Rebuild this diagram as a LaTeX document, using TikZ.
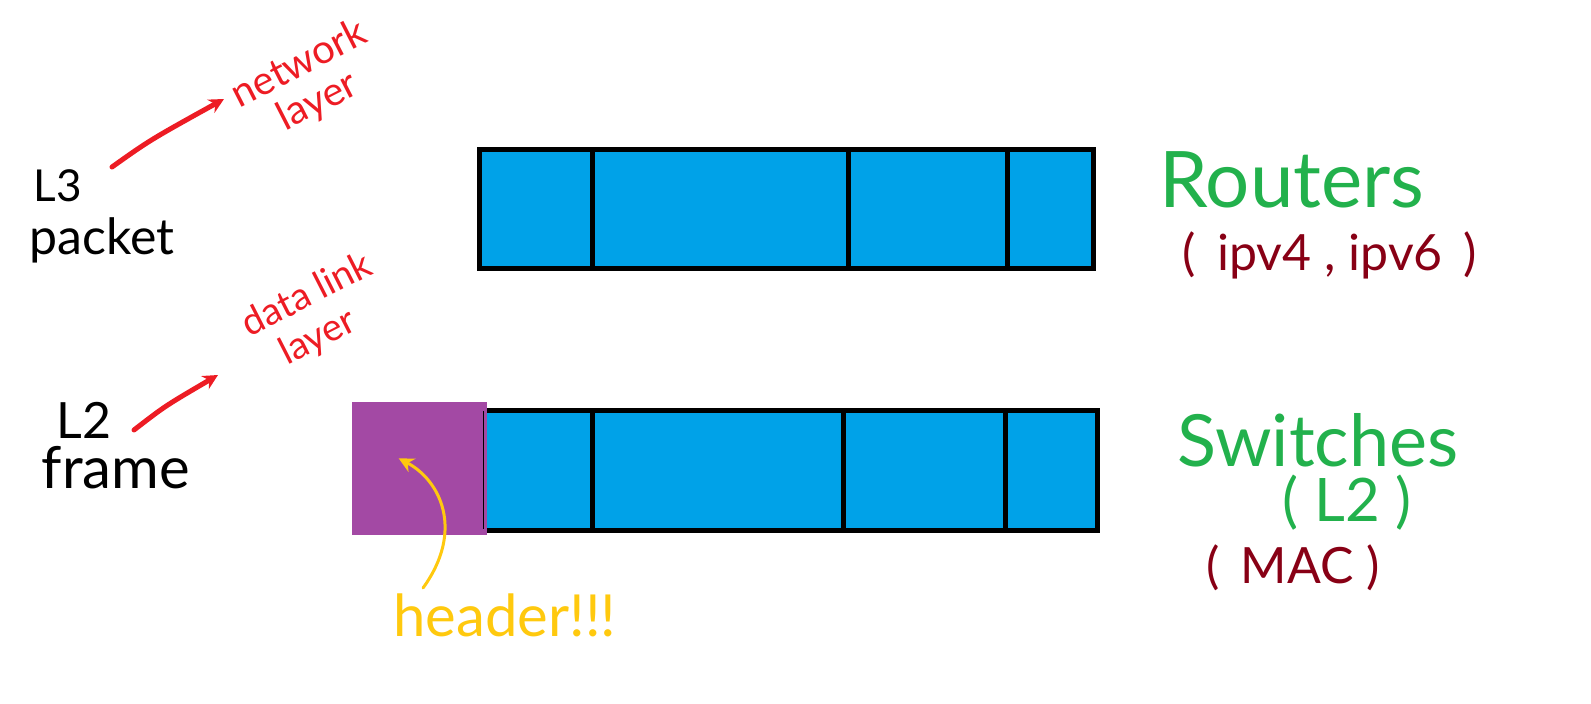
\documentclass[tikz,border=0pt]{standalone}
\usepackage{fontspec}
\setmainfont{Lato}
\usetikzlibrary{arrows.meta}
\definecolor{pblue}{HTML}{00A2E8}
\definecolor{ppurple}{HTML}{A349A4}
\definecolor{pgreen}{HTML}{22B14C}
\definecolor{pdred}{HTML}{880015}
\definecolor{pred}{HTML}{ED1C24}
\definecolor{pyellow}{HTML}{FFC90E}
\tikzset{
  seg/.style={draw=black, line width=5pt, fill=pblue},
  div/.style={draw=black, line width=5pt},
  lbl/.style={inner sep=0pt, anchor=center},
  redlbl/.style={inner sep=0pt, anchor=center, text=pred, rotate=27},
  redarrow/.style={draw=pred, line width=5pt, line cap=round, -{Stealth[length=15pt,width=15pt]}},
  yelarrow/.style={draw=pyellow, line width=3pt, line cap=round, -{Stealth[length=15pt,width=15pt]}},
}
\begin{document}
\begin{tikzpicture}[x=1pt,y=-1pt]
\useasboundingbox (0,0) rectangle (1591,704);
% top packet
\draw[seg] (479,149) rectangle (1093,268);
\draw[div] (592,147) -- (592,270);
\draw[div] (848,147) -- (848,270);
\draw[div] (1007,149) -- (1007,268);
% bottom frame
\draw[seg] (484,410) rectangle (1097,530);
\draw[div] (592,408) -- (592,532);
\draw[div] (843,408) -- (843,532);
\draw[div] (1005,408) -- (1005,532);
\fill[ppurple] (352,402) rectangle (487,535);
\draw[black, line width=1pt] (483,411) -- (483,529);
\node[lbl] (hdrpt) at (398,458) {};
% left labels
\node[lbl, font=\fontsize{44}{44}\selectfont] (l3) at (58,186) {L3};
\node[lbl, font=\fontsize{50}{50}\selectfont] (packet) at (102,240) {packet};
\node[redlbl, font=\fontsize{40}{40}\selectfont] (net) at (298,62) {network};
\node[redlbl, font=\fontsize{40}{40}\selectfont] (lay1) at (318,102) {layer};
\node[lbl, font=\fontsize{50}{50}\selectfont] (l2) at (84,420) {L2};
\node[lbl, font=\fontsize{58}{58}\selectfont] (frame) at (116,468) {frame};
\node[redlbl, font=\fontsize{38}{38}\selectfont] (dl) at (306,293) {data link};
\node[redlbl, font=\fontsize{38}{38}\selectfont] (lay2) at (318,338) {layer};
\node[lbl, font=\fontsize{58}{58}\selectfont\color{pyellow}] (header) at (505,615) {header!!!};
% right labels
\node[lbl, font=\fontsize{78}{78}\selectfont\color{pgreen}] (routers) at (1292,180) {Routers};
\node[lbl, font=\fontsize{50}{50}\selectfont\color{pdred}] (ipv) at (1330,255) {(\, ipv4 , ipv6 \,)};
\node[lbl, font=\fontsize{72}{72}\selectfont\color{pgreen}] (switches) at (1318,440) {Switches};
\node[lbl, font=\fontsize{60}{60}\selectfont\color{pgreen}] (l2b) at (1347,503) {( L2 )};
\node[lbl, font=\fontsize{50}{50}\selectfont\color{pdred}] (mac) at (1293,568) {(\, MAC )};
% arrows
\coordinate (a1s) at (112,167);
\coordinate (a1e) at (224,99);
\draw[redarrow] (a1s) .. controls (150,140) .. (a1e);
\coordinate (a2s) at (134,430);
\coordinate (a2e) at (218,375);
\draw[redarrow] (a2s) .. controls (165,406) .. (a2e);
\coordinate (a3s) at (423,588);
\draw[yelarrow] (a3s) .. controls (465,530) and (440,480) .. (hdrpt);
\end{tikzpicture}
\end{document}
